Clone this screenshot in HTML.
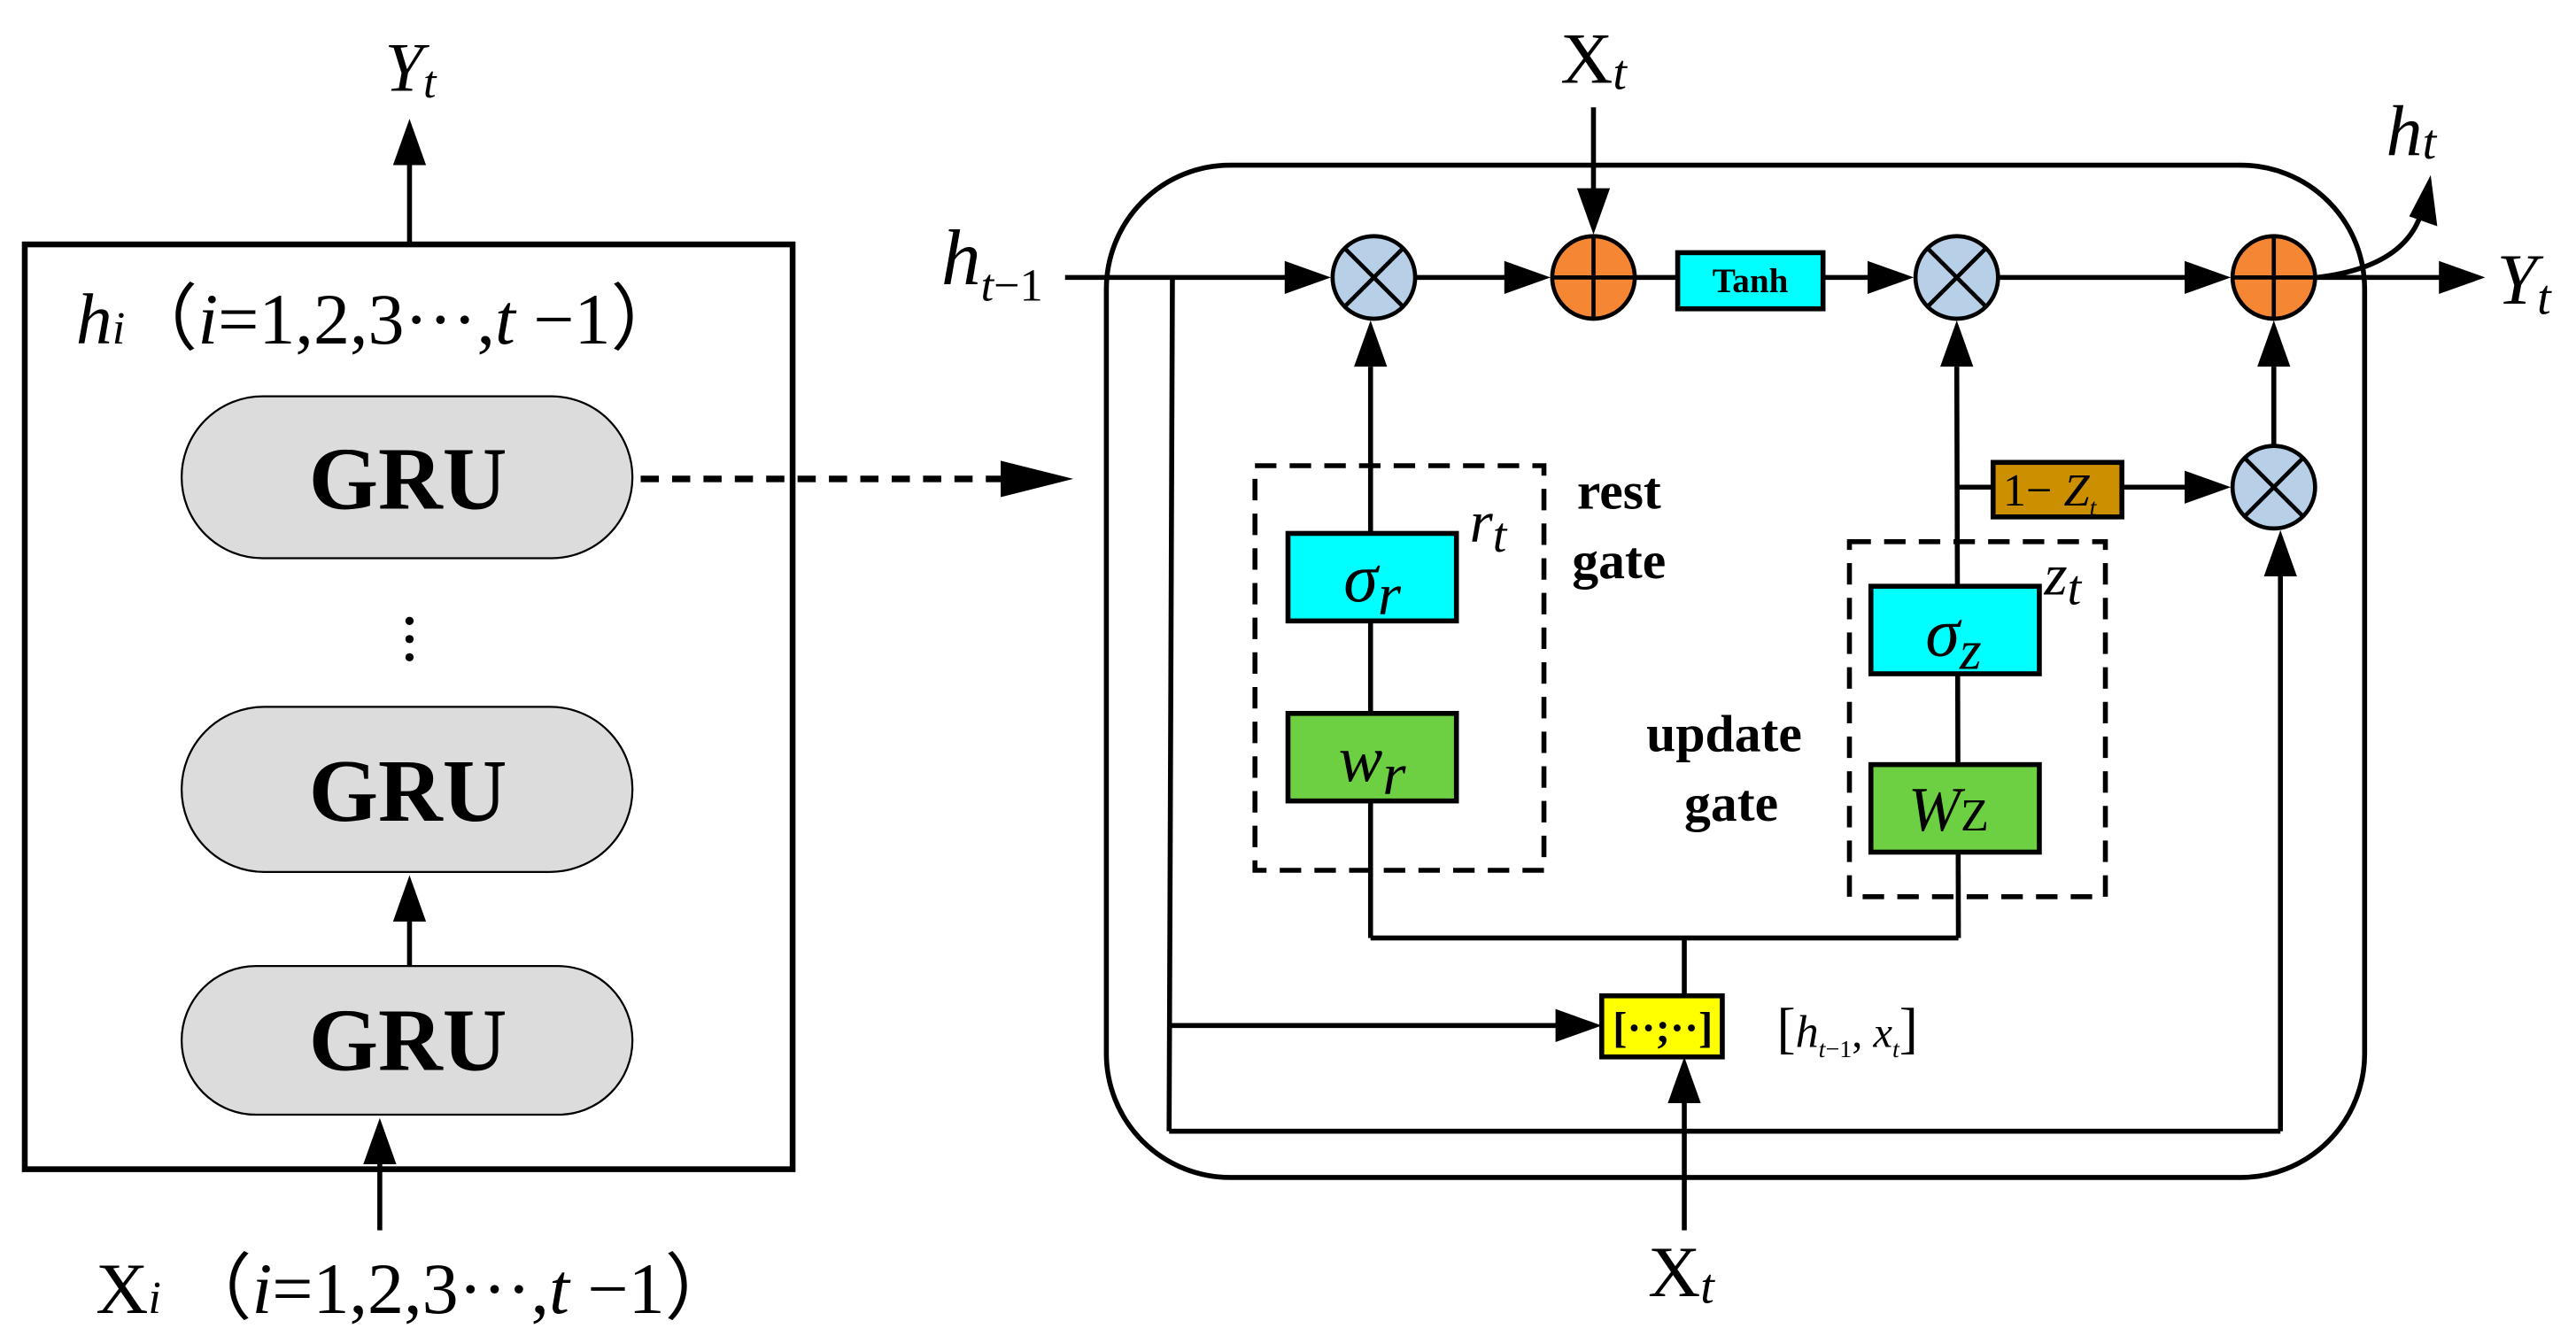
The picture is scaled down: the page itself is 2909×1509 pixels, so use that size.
<!DOCTYPE html>
<html><head><meta charset="utf-8"><style>
html,body{margin:0;padding:0;background:#fff;}
svg{display:block;}
text{font-family:"Liberation Serif",serif;}
</style></head><body>
<svg width="2909" height="1509" viewBox="0 0 1560 809" preserveAspectRatio="none" xmlns="http://www.w3.org/2000/svg">
<g stroke="#000" fill="none">
<rect x="15" y="148" width="465" height="560" stroke-width="3.5"/>
<line x1="248" y1="148" x2="248" y2="100" stroke-width="3"/>
<line x1="248" y1="585" x2="248" y2="556" stroke-width="3"/>
<line x1="230" y1="745" x2="230" y2="705" stroke-width="3"/>
<line x1="388" y1="290" x2="608" y2="290" stroke-width="4" stroke-dasharray="11,8"/>
<rect x="110" y="240" width="273" height="98" rx="49" fill="#dcdcdc" stroke-width="1.2"/>
<rect x="110" y="428" width="273" height="100" rx="50" fill="#dcdcdc" stroke-width="1.2"/>
<rect x="110" y="585" width="273" height="90" rx="45" fill="#dcdcdc" stroke-width="1.2"/>
</g>
<g fill="#000">
<polygon points="248,72 238,100 258,100"/>
<polygon points="248,530 238,558 258,558"/>
<polygon points="230,677 220,705 240,705"/>
<polygon points="650,290 606,279 606,301"/>
<circle cx="248" cy="376" r="2.5"/><circle cx="248" cy="387" r="2.5"/><circle cx="248" cy="398" r="2.5"/>
</g>
<g font-weight="bold" font-size="54" text-anchor="middle">
<text x="247" y="308">GRU</text>
<text x="247" y="497">GRU</text>
<text x="247" y="648">GRU</text>
</g>
<text x="233" y="55" font-size="42" font-style="italic">Y<tspan font-size="28" dy="4">t</tspan></text>
<text x="46" y="208" font-size="44"><tspan font-style="italic">h</tspan><tspan font-size="28" font-style="italic">i</tspan>（<tspan font-style="italic">i</tspan>=1,2,3···,<tspan font-style="italic">t</tspan> −1）</text>
<text x="58" y="795" font-size="44">X<tspan font-size="28" font-style="italic">i</tspan>  （<tspan font-style="italic">i</tspan>=1,2,3···,<tspan font-style="italic">t</tspan> −1）</text>

<g stroke="#000" fill="none" stroke-width="3">
<rect x="670" y="100" width="762" height="613" rx="75"/>
<line x1="645" y1="168" x2="780" y2="168"/>
<line x1="858" y1="168" x2="912" y2="168"/>
<line x1="991" y1="168" x2="1016" y2="168"/>
<line x1="1104" y1="168" x2="1132" y2="168"/>
<line x1="1211" y1="168" x2="1324" y2="168"/>
<line x1="1403" y1="168" x2="1478" y2="168"/>
<path d="M1403,168 Q1455,162 1466,130"/>
<line x1="965" y1="65" x2="965" y2="115"/>
<line x1="710" y1="168" x2="708" y2="685"/>
<line x1="708" y1="685" x2="1381" y2="685"/>
<line x1="1381" y1="685" x2="1381" y2="348"/>
<line x1="708" y1="621" x2="943" y2="621"/>
<line x1="1020" y1="745" x2="1020" y2="667"/>
<line x1="1020" y1="603" x2="1020" y2="568"/>
<line x1="830" y1="568" x2="1186" y2="568"/>
<line x1="830" y1="568" x2="830" y2="222"/>
<line x1="1186" y1="568" x2="1185" y2="222"/>
<line x1="1185" y1="295" x2="1207" y2="295"/>
<line x1="1285" y1="295" x2="1324" y2="295"/>
<line x1="1377" y1="269" x2="1377" y2="222"/>
</g>
<g fill="#000">
<polygon points="806,168 778,158 778,178"/>
<polygon points="939,168 911,158 911,178"/>
<polygon points="1159,168 1131,158 1131,178"/>
<polygon points="1351,168 1323,158 1323,178"/>
<polygon points="1505,168 1477,158 1477,178"/>
<polygon points="1351,295 1323,285 1323,305"/>
<polygon points="965,142 955,114 975,114"/>
<polygon points="970,621 942,611 942,631"/>
<polygon points="1020,640 1010,668 1030,668"/>
<polygon points="830,194 820,222 840,222"/>
<polygon points="1185,194 1175,222 1195,222"/>
<polygon points="1377,194 1367,222 1387,222"/>
<polygon points="1381,321 1371,349 1391,349"/>
<polygon points="1472,106 1459,131 1476,137"/>
</g>
<g stroke="#000" fill="none" stroke-width="3" stroke-dasharray="13,8">
<rect x="760" y="282" width="175" height="245"/>
<rect x="1120" y="328" width="155" height="215"/>
</g>
<g stroke="#000" stroke-width="2.5">
<circle cx="832" cy="168" r="25" fill="#b8cfe8"/>
<circle cx="1185" cy="168" r="25" fill="#b8cfe8"/>
<circle cx="1377" cy="295" r="25" fill="#b8cfe8"/>
<circle cx="965" cy="168" r="25" fill="#f58634"/>
<circle cx="1377" cy="168" r="25" fill="#f58634"/>
<path d="M814,150 L850,186 M850,150 L814,186 M1167,150 L1203,186 M1203,150 L1167,186 M1359,277 L1395,313 M1395,277 L1359,313" fill="none"/>
<path d="M940,168 L990,168 M965,143 L965,193 M1352,168 L1402,168 M1377,143 L1377,193" fill="none"/>
</g>
<g stroke="#000" stroke-width="3">
<rect x="1016" y="153" width="88" height="34" fill="#00ffff"/>
<rect x="780" y="323" width="102" height="53" fill="#00ffff"/>
<rect x="780" y="432" width="102" height="53" fill="#6dd043"/>
<rect x="1133" y="355" width="102" height="53" fill="#00ffff"/>
<rect x="1133" y="463" width="102" height="53" fill="#6dd043"/>
<rect x="1207" y="280" width="78" height="33" fill="#cc8f00"/>
<rect x="970" y="603" width="73" height="37" fill="#ffff00"/>
</g>
<text x="1060" y="177" font-size="21" font-weight="bold" text-anchor="middle">Tanh</text>
<text x="1007" y="631" font-size="26" font-weight="bold" text-anchor="middle">[··;··]</text>
<text x="831" y="364" font-size="42" font-style="italic" text-anchor="middle">σ<tspan font-size="36" dy="8">r</tspan></text>
<text x="831" y="473" font-size="40" font-style="italic" text-anchor="middle">w<tspan font-size="36" dy="8">r</tspan></text>
<text x="1183" y="397" font-size="42" font-style="italic" text-anchor="middle">σ<tspan font-size="34" dy="8">z</tspan></text>
<text x="1180" y="503" font-size="38" font-style="italic" text-anchor="middle">W<tspan font-size="28" font-style="normal">Z</tspan></text>
<text x="1213" y="306" font-size="28">1− <tspan font-style="italic">Z</tspan><tspan font-size="15" font-style="italic" dy="6">t</tspan></text>
<text x="1076" y="634" font-size="34">[<tspan font-style="italic" font-size="28">h</tspan><tspan font-size="15" dy="6"><tspan font-style="italic">t</tspan>−1</tspan><tspan dy="-6" font-size="26">, </tspan><tspan font-style="italic" font-size="26">x</tspan><tspan font-size="15" font-style="italic" dy="6">t</tspan><tspan dy="-6">]</tspan></text>
<text x="890" y="328" font-size="36" font-style="italic">r<tspan font-size="30" dy="6">t</tspan></text>
<text x="1238" y="360" font-size="36" font-style="italic">z<tspan font-size="30" dy="6">t</tspan></text>
<g font-size="32" font-weight="bold">
<text x="955" y="308">rest</text>
<text x="952" y="350">gate</text>
<text x="997" y="455">update</text>
<text x="1020" y="497">gate</text>
</g>
<text x="570" y="172" font-size="48" font-style="italic">h<tspan font-size="28" dy="10"><tspan>t</tspan><tspan font-style="normal">−1</tspan></tspan></text>
<text x="945" y="50" font-size="44">X<tspan font-size="30" font-style="italic" dy="4">t</tspan></text>
<text x="998" y="785" font-size="44">X<tspan font-size="30" font-style="italic" dy="4">t</tspan></text>
<text x="1445" y="94" font-size="44" font-style="italic">h<tspan font-size="30" dy="2">t</tspan></text>
<text x="1512" y="184" font-size="44" font-style="italic">Y<tspan font-size="30" dy="6">t</tspan></text>
</svg>
</body></html>
